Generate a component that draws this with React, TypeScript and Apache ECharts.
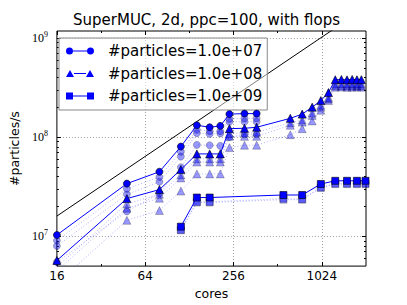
import React, { useEffect, useRef } from 'react';
import * as echarts from 'echarts';

// ---- axis ticks ----
const xMajorTicks = [16, 64, 256, 1024];
const xMinorTicks = [32, 128, 512];
const yMajorTicks = [1e7, 1e8, 1e9];
const yMinorTicks = [6e6, 7e6, 8e6, 9e6, 2e7, 3e7, 4e7, 5e7, 6e7, 7e7, 8e7, 9e7, 2e8, 3e8, 4e8, 5e8, 6e8, 7e8, 8e8, 9e8];

// ---- ideal scaling line ----
const idealCores = [16, 2048];
const idealRate = [1.6e7, 2.048e9];

// ---- #particles = 1e7 (circles) ----
const cores7 = [16, 48, 80, 112, 144, 176, 208, 240, 304, 368];
const rate7main = [1.03e7, 3.40e7, 4.48e7, 8.04e7, 1.32e8, 1.26e8, 1.30e8, 1.71e8, 1.73e8, 1.73e8];
const rate7a = [9.06e6, 3.01e7, 3.97e7, 7.13e7, 1.19e8, 1.15e8, 1.15e8, 1.53e8, 1.55e8, 1.55e8];
const rate7b = [7.98e6, 2.65e7, 3.55e7, 6.37e7, 1.10e8, 1.08e8, 1.09e8, 1.43e8, 1.43e8, 1.43e8];
const rate7c = [5.48e6, 1.78e7, 2.71e7, 4.98e7, 8.36e7, 8.30e7, 8.17e7, 1.0e8, 1.07e8, 1.07e8];

// ---- #particles = 1e8 (triangles) ----
const cores8 = [16, 48, 80, 112, 144, 176, 208, 240, 304, 368, 624, 752, 880, 1008, 1136, 1264, 1392, 1520, 1648, 1776, 1904];
const rate8main = [5.70e6, 2.40e7, 2.96e7, 4.71e7, 6.78e7, 6.78e7, 6.78e7, 1.22e8, 1.23e8, 1.26e8, 1.55e8, 1.71e8, 2.01e8, 2.34e8, 2.82e8, 3.80e8, 3.82e8, 3.79e8, 3.83e8, 3.80e8, 3.81e8];
const rate8a = [4.90e6, 2.12e7, 2.65e7, 4.16e7, 6.05e7, 6.05e7, 6.05e7, 1.09e8, 1.10e8, 1.12e8, 1.40e8, 1.49e8, 1.75e8, 2.10e8, 2.52e8, 3.45e8, 3.47e8, 3.44e8, 3.46e8, 3.45e8, 3.46e8];
const rate8b = [4.48e6, 1.92e7, 2.42e7, 3.88e7, 5.61e7, 5.61e7, 5.61e7, 1.02e8, 1.02e8, 1.02e8, 1.32e8, 1.42e8, 1.66e8, 2.01e8, 2.43e8, 3.30e8, 3.31e8, 3.29e8, 3.30e8, 3.31e8, 3.30e8];
const rate8c = [3.34e6, 1.45e7, 1.82e7, 2.86e7, 4.26e7, 4.26e7, 4.26e7, 7.85e7, 8.30e7, 8.30e7, 1.06e8, 1.22e8, 1.46e8, 1.87e8, 2.34e8, 3.20e8, 3.21e8, 3.19e8, 3.20e8, 3.21e8, 3.20e8];

// ---- #particles = 1e9 (squares) ----
const cores9 = [112, 144, 176, 560, 752, 1008, 1264, 1520, 1776, 2032];
const rate9main = [1.25e7, 2.46e7, 2.46e7, 2.61e7, 2.61e7, 3.37e7, 3.63e7, 3.63e7, 3.63e7, 3.63e7];
const rate9a = [1.16e7, 2.23e7, 2.23e7, 2.40e7, 2.37e7, 3.12e7, 3.40e7, 3.40e7, 3.40e7, 3.40e7];
const rate9b = [1.15e7, 2.19e7, 2.19e7, 2.34e7, 2.34e7, 3.07e7, 3.36e7, 3.36e7, 3.36e7, 3.36e7];

const titleText = 'SuperMUC, 2d, ppc=100, with flops';
const legendNames = ['#particles=1.0e+07', '#particles=1.0e+08', '#particles=1.0e+09'];

const FONT = "'DejaVu Sans', sans-serif";
const SERIF = "'Liberation Serif', 'DejaVu Serif', serif";

const ICON_CIRCLE = 'path://M0,4.5 A3.5,3.5 0 1,0 7,4.5 A3.5,3.5 0 1,0 0,4.5 Z M7,4 L21,4 L21,5 L7,5 Z M21,4.5 A3.5,3.5 0 1,0 28,4.5 A3.5,3.5 0 1,0 21,4.5 Z';
const ICON_TRI = 'path://M0,8 L4,1 L8,8 Z M8,4 L20,4 L20,5 L8,5 Z M20,8 L24,1 L28,8 Z';
const ICON_SQ = 'path://M0,1 L7,1 L7,8 L0,8 Z M7,4 L21,4 L21,5 L7,5 Z M21,1 L28,1 L28,8 L21,8 Z';

function pairs(xs: number[], ys: number[]) {
  return xs.map((x, i) => [x, ys[i]]);
}

function mainSeries(name: string, symbol: string, size: number, xs: number[], ys: number[]) {
  return {
    name,
    type: 'line',
    data: pairs(xs, ys),
    symbol,
    symbolSize: size,
    showSymbol: true,
    clip: true,
    silent: true,
    z: 4,
    lineStyle: { color: '#0000ff', width: 1 },
    itemStyle: { color: '#0000ff', borderColor: '#000000', borderWidth: 0.6 },
  };
}

function lightSeries(name: string, symbol: string, size: number, xs: number[], ys: number[]) {
  return {
    name,
    type: 'line',
    data: pairs(xs, ys),
    symbol,
    symbolSize: size,
    showSymbol: true,
    clip: true,
    silent: true,
    z: 3,
    lineStyle: { color: 'rgba(0,0,255,0.3)', width: 1, type: [1, 2] },
    itemStyle: { color: 'rgba(0,0,255,0.4)', borderColor: 'rgba(0,0,0,0.4)', borderWidth: 0.6 },
  };
}

function xAxisDef(position: string, ticks: number[], len: number, withLabels: boolean, withGrid: boolean) {
  return {
    type: 'log',
    logBase: 2,
    min: 16,
    max: 2048,
    position,
    axisLine: { show: false },
    axisTick: { show: true, inside: true, length: len, customValues: ticks, lineStyle: { color: '#000', width: 1 } },
    axisLabel: withLabels
      ? { show: true, customValues: ticks, formatter: (v: number) => String(Math.round(v)), fontSize: 12, fontFamily: FONT, color: '#000', margin: 4 }
      : { show: false },
    splitLine: withGrid ? { show: true, lineStyle: { color: '#a0a0a0', width: 1, type: [1, 2] } } : { show: false },
    minorTick: { show: false },
  };
}

function yAxisDef(position: string, ticks: number[], len: number, withLabels: boolean, withGrid: boolean) {
  return {
    type: 'log',
    logBase: 10,
    min: 5e6,
    max: 1.18e9,
    position,
    axisLine: { show: false },
    axisTick: { show: true, inside: true, length: len, customValues: ticks, lineStyle: { color: '#000', width: 1 } },
    axisLabel: withLabels
      ? {
          show: true,
          customValues: ticks,
          formatter: (v: number) => '{b|10}{s|' + Math.round(Math.log10(v)) + '}',
          margin: 9,
          rich: {
            b: { fontFamily: SERIF, fontSize: 12, color: '#000' },
            s: { fontFamily: SERIF, fontSize: 8, color: '#000', padding: [0, 0, 7, 0] },
          },
        }
      : { show: false },
    splitLine: withGrid ? { show: true, lineStyle: { color: '#a0a0a0', width: 1, type: [1, 2] } } : { show: false },
    minorTick: { show: false },
  };
}

export default function App() {
  const ref = useRef<HTMLDivElement>(null);
  useEffect(() => {
    if (!ref.current) return;
    const chart = echarts.init(ref.current, null, { renderer: 'svg' });
    const option: any = {
      animation: false,
      backgroundColor: '#ffffff',
      title: {
        text: titleText,
        left: 73,
        top: 12,
        padding: 0,
        textStyle: { fontFamily: FONT, fontSize: 15, fontWeight: 'normal', color: '#000' },
      },
      legend: {
        orient: 'vertical',
        left: 59,
        top: 38,
        padding: [5.5, 5, 6.5, 7],
        itemGap: 7.5,
        itemWidth: 28,
        itemHeight: 10,
        borderColor: '#888888',
        borderWidth: 1,
        backgroundColor: 'rgba(255,255,255,0.5)',
        itemStyle: { color: '#0000ff', borderWidth: 0 },
        textStyle: { fontFamily: FONT, fontSize: 15, color: '#000', padding: [0, 0, 0, 9] },
        data: [
          { name: legendNames[0], icon: ICON_CIRCLE },
          { name: legendNames[1], icon: ICON_TRI },
          { name: legendNames[2], icon: ICON_SQ },
        ],
        selectedMode: false,
      },
      grid: {
        left: 51,
        right: 41,
        top: 31,
        bottom: 31,
        show: true,
        borderColor: '#000',
        borderWidth: 1,
        backgroundColor: 'transparent',
      },
      xAxis: [
        {
          ...xAxisDef('bottom', xMajorTicks, 4, true, true),
          name: 'cores',
          nameLocation: 'middle',
          nameGap: 16,
          nameTextStyle: { fontFamily: FONT, fontSize: 12.5, color: '#000' },
        },
        xAxisDef('top', xMajorTicks, 4, false, false),
        xAxisDef('bottom', xMinorTicks, 2, false, false),
        xAxisDef('top', xMinorTicks, 2, false, false),
      ],
      yAxis: [
        {
          ...yAxisDef('left', yMajorTicks, 4, true, true),
          name: '#particles/s',
          nameLocation: 'middle',
          nameGap: 28,
          nameRotate: 90,
          nameTextStyle: { fontFamily: FONT, fontSize: 12.5, color: '#000' },
        },
        yAxisDef('right', yMajorTicks, 4, false, false),
        yAxisDef('left', yMinorTicks, 2, false, false),
        yAxisDef('right', yMinorTicks, 2, false, false),
      ],
      series: [
        {
          name: 'ideal',
          type: 'line',
          data: pairs(idealCores, idealRate),
          symbol: 'none',
          clip: true,
          silent: true,
          z: 2,
          lineStyle: { color: '#000', width: 1 },
        },
        lightSeries('c7', 'circle', 7, cores7, rate7c),
        lightSeries('b7', 'circle', 7, cores7, rate7b),
        lightSeries('a7', 'circle', 7, cores7, rate7a),
        lightSeries('c8', 'triangle', 8, cores8, rate8c),
        lightSeries('b8', 'triangle', 8, cores8, rate8b),
        lightSeries('a8', 'triangle', 8, cores8, rate8a),
        lightSeries('b9', 'rect', 7, cores9, rate9b),
        lightSeries('a9', 'rect', 7, cores9, rate9a),
        mainSeries(legendNames[0], 'circle', 7, cores7, rate7main),
        mainSeries(legendNames[1], 'triangle', 8, cores8, rate8main),
        mainSeries(legendNames[2], 'rect', 7, cores9, rate9main),
      ],
    };
    chart.setOption(option);
    return () => chart.dispose();
  }, []);
  return <div ref={ref} style={{ position: 'fixed', left: 0, top: 0, width: 407, height: 305 }} />;
}
